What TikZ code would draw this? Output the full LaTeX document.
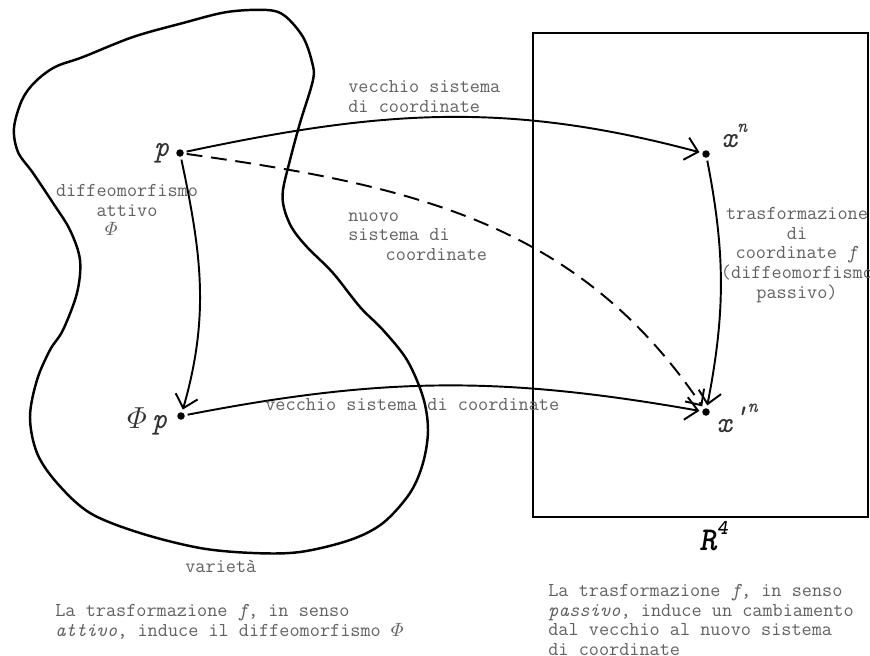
\documentclass[tikz,border=0pt]{standalone}
\usepackage{amsmath}
\usepackage{fontspec}
\usetikzlibrary{arrows.meta}

\tikzset{
  txt/.style={font=\ttfamily\fontsize{11.2}{11.2}\selectfont, text=black!62, inner sep=0pt},
  sym/.style={font=\ttfamily\itshape\fontsize{17}{17}\selectfont, text=black!80, inner sep=0pt},
  dot/.style={circle, fill=black, inner sep=0pt, minimum size=0.15cm},
  arr/.style={-{Straight Barb[length=7pt,width=13pt,line width=1.1pt]}, line width=1.1pt, shorten >=1.5pt, shorten <=1.5pt}
}

\begin{document}
\begin{tikzpicture}[x=0.02cm,y=0.02cm]
			\useasboundingbox (0,0) rectangle (870,-656);
			
			% Define points
			\node[dot] (p) at (180,-153) {};
			\node[dot] (xn) at (706,-154) {};
			\node[dot] (phip) at (181,-416) {};
			\node[dot] (xpn) at (706,-412) {};
			
			% Draw the manifold
			\draw[line width=1.4pt] plot[smooth cycle, tension=0.55] coordinates {
				(14,-128) (22,-100) (35,-82) (55,-67) (83,-57) (133,-37) (183,-23)
				(227,-12) (267,-10) (285,-16) (303,-37) (312,-62) (313,-80) (300,-123)
				(290,-160) (283,-190) (284,-208) (292,-228) (307,-247) (333,-273)
				(360,-307) (383,-330) (407,-360) (423,-397) (428,-430) (423,-463)
				(410,-493) (383,-523) (350,-540) (300,-552) (253,-553) (200,-548)
				(140,-533) (90,-513) (57,-483) (37,-453) (30,-417) (37,-380) (50,-350)
				(63,-330) (77,-293) (80,-260) (70,-230) (53,-203) (33,-173) (18,-152)};
			
			% Draw R^4
			\draw[line width=1.2pt] (533,-33) rectangle (868,-517);
			
			% Draw arrows
			\draw[arr] (p) to[out=12,in=165] (xn);
			\draw[arr,dashed,dash pattern=on 9pt off 5pt] (p) to[out=-8,in=124] (xpn);
			\draw[arr] (p) to[out=-78,in=74] (phip);
			\draw[arr] (xn) to[out=-79,in=79] (xpn);
			\draw[arr] (phip) to[out=11,in=170] (xpn);
			
			% Add labels
			\node[sym,anchor=base east] (plbl) at (170,-156) {p};
			\node[sym,anchor=base west] (xnlbl) at (721,-147) {x\raisebox{1.1ex}{\fontsize{11}{11}\selectfont n}};
			\node[sym,anchor=base east] (phiplbl) at (168,-428) {$\varPhi$\,p};
			\node[sym,anchor=base west] (xpnlbl) at (716,-432) {x\raisebox{0.5ex}{'}\raisebox{1.5ex}{\fontsize{11}{11}\selectfont n}};
			\node[sym,anchor=base west,font=\ttfamily\bfseries\itshape\fontsize{19}{19}\selectfont,text=black] (rlbl) at (699,-550) {R\raisebox{1.1ex}{\fontsize{12}{12}\selectfont 4}};
			
			\node[txt,anchor=north west,align=left] (oldtop) at (348,-80) {vecchio sistema\\di coordinate};
			\node[txt,anchor=north west,align=left] (newsys) at (348,-212) {nuovo\\sistema di\\\hspace*{1.9em}coordinate};
			\node[txt,anchor=north,align=center] (active) at (127,-184) {diffeomorfismo\\attivo\hspace*{1.3em}\\$\varPhi$\hspace*{1.6em}};
			\node[txt,anchor=north,align=center] (passive) at (797,-207) {trasformazione\\di\hspace*{2.4em}\\coordinate \textit{f}\\(diffeomorfismo\\passivo)};
			\node[txt,anchor=north west] (oldbot) at (265,-398) {vecchio sistema di coordinate};
			\node[txt,anchor=north west] (manif) at (185,-560) {varietà};
			\node[txt,anchor=north west,align=left] (noteact) at (55,-604) {La trasformazione \textit{f}, in senso\\\textit{attivo}, induce il diffeomorfismo $\varPhi$};
			\node[txt,anchor=north west,align=left] (notepas) at (548,-584) {La trasformazione \textit{f}, in senso\\\textit{passivo}, induce un cambiamento\\dal vecchio al nuovo sistema\\di coordinate};
		\end{tikzpicture}
\end{document}
